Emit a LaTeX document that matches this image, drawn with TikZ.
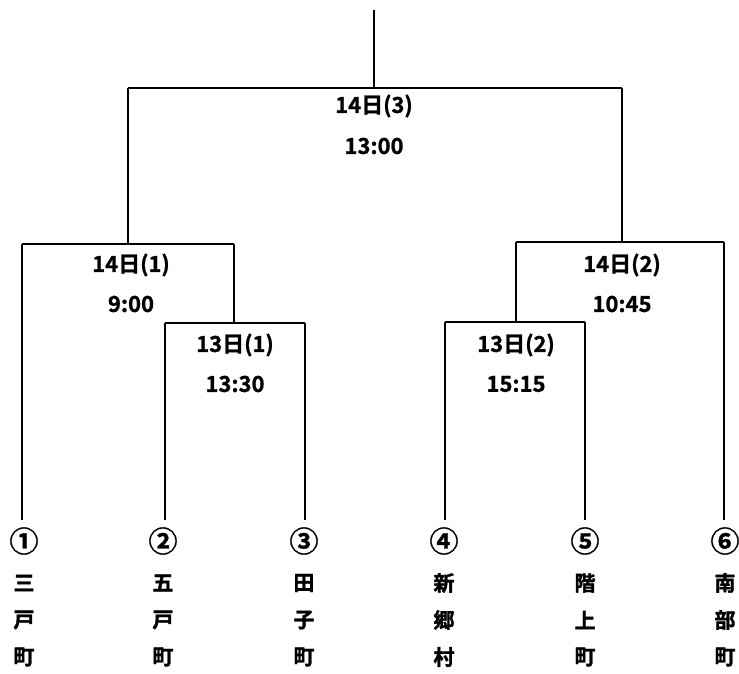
\documentclass[tikz,border=0pt]{standalone}
\usepackage{fontspec}
\newfontfamily\jpl{Noto Sans CJK JP Bold}[FakeBold=1]
\newfontfamily\jpbb{Noto Sans CJK JP Bold}[FakeBold=1.5]
\begin{document}
\begin{tikzpicture}[x=1pt,y=-1pt,line width=1.8pt,
  lbl/.style={font=\jpl\fontsize{22}{22}\selectfont,inner sep=0pt},
  num/.style={font=\jpl\fontsize{29}{29}\selectfont,inner sep=0pt},
  nm/.style={font=\jpbb\fontsize{21}{21}\selectfont,inner sep=0pt}]
\useasboundingbox (0,0) rectangle (739,674);
% coordinates
\coordinate (top) at (374,10);
\coordinate (f) at (374,88);
\coordinate (fl) at (128,88);
\coordinate (fr) at (622,88);
\coordinate (sl) at (128,244);
\coordinate (sr) at (622,242);
\coordinate (slL) at (22,244);
\coordinate (slR) at (234,244);
\coordinate (srL) at (516,242);
\coordinate (srR) at (724,242);
\coordinate (ql) at (234,323);
\coordinate (qlL) at (165,323);
\coordinate (qlR) at (305,323);
\coordinate (qr) at (516,322);
\coordinate (qrL) at (445,322);
\coordinate (qrR) at (585,322);
\coordinate (e1) at (22,520);
\coordinate (e2) at (165,520);
\coordinate (e3) at (305,520);
\coordinate (e4) at (445,520);
\coordinate (e5) at (585,520);
\coordinate (e6) at (724,520);
% lines
\draw (top) -- (f);
\draw (fl) -- (fr);
\draw (fl) -- (sl);
\draw (fr) -- (sr);
\draw (slL) -- (slR);
\draw (srL) -- (srR);
\draw (slL) -- (e1);
\draw (slR) -- (ql);
\draw (qlL) -- (qlR);
\draw (qlL) -- (e2);
\draw (qlR) -- (e3);
\draw (srR) -- (e6);
\draw (srL) -- (qr);
\draw (qrL) -- (qrR);
\draw (qrL) -- (e4);
\draw (qrR) -- (e5);
% labels
\node[lbl] (l3a) at (374,106) {14日(3)};
\node[lbl] (l3b) at (374,146) {13:00};
\node[lbl] (l1a) at (131,265) {14日(1)};
\node[lbl] (l1b) at (131,304) {9:00};
\node[lbl] (l13a) at (235,345) {13日(1)};
\node[lbl] (l13b) at (235,384) {13:30};
\node[lbl] (l23a) at (516,345) {13日(2)};
\node[lbl] (l23b) at (516,384) {15:15};
\node[lbl] (l2a) at (622,265) {14日(2)};
\node[lbl] (l2b) at (622,304) {10:45};
% teams
\foreach \x/\n/\a/\b/\c/\k in {24/①/三/戸/町/1,163/②/五/戸/町/2,304/③/田/子/町/3,444/④/新/郷/村/4,585/⑤/階/上/町/5,725/⑥/南/部/町/6}{
  \node[num] (n\k) at (\x,541) {\n};
  \node[nm] (a\k) at (\x,583) {\a};
  \node[nm] (b\k) at (\x,620) {\b};
  \node[nm] (c\k) at (\x,657) {\c};
}
\end{tikzpicture}
\end{document}
